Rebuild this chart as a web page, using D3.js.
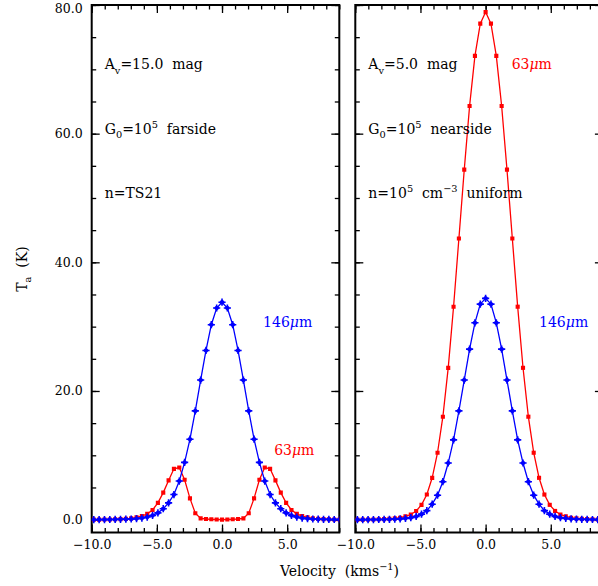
<!DOCTYPE html>
<html>
<head>
<meta charset="utf-8">
<script src="https://cdn.jsdelivr.net/npm/d3@7"></script>
<style>
  html, body { margin: 0; padding: 0; background: #fff; }
  svg { display: block; }
  text { font-family: "DejaVu Serif", serif; fill: #000; white-space: pre; }
</style>
</head>
<body>
<svg id="chart" width="598" height="586"></svg>
<script>
// Velocity channels (km/s)
const velocity = [-9.84,-9.43,-9.02,-8.61,-8.20,-7.79,-7.38,-6.97,-6.56,-6.15,-5.74,-5.33,-4.92,-4.51,-4.10,-3.69,-3.28,-2.87,-2.46,-2.05,-1.64,-1.23,-0.82,-0.41,
  0,0.41,0.82,1.23,1.64,2.05,2.46,2.87,3.28,3.69,4.10,4.51,4.92,5.33,5.74,6.15,6.56,6.97,7.38,7.79,8.20,8.61,9.02];

// Left model: Av = 15 mag, far-side illumination
const leftO146 = [0.0,0.01,0.01,0.02,0.03,0.05,0.07,0.1,0.16,0.25,0.4,0.65,1.05,1.7,2.6,3.9,6.0,8.9,12.5,16.9,21.7,26.3,30.3,32.9,
  33.8,32.9,30.3,26.3,21.7,16.9,12.5,8.9,6.0,3.9,2.6,1.7,1.05,0.65,0.4,0.25,0.16,0.1,0.07,0.05,0.03,0.02,0.01];
const leftO63 = [0.01,0.01,0.02,0.03,0.05,0.08,0.12,0.2,0.35,0.55,0.9,1.5,2.6,4.2,6.1,7.9,8.1,6.2,3.3,1.0,0.2,0.1,0.05,0.02,
  0.0,0.02,0.05,0.1,0.2,1.0,3.3,6.2,8.1,7.9,6.1,4.2,2.6,1.5,0.9,0.55,0.35,0.2,0.12,0.08,0.05,0.03,0.02];

// Right model: Av = 5 mag, near-side illumination
const rightO146 = [0.0,0.0,0.01,0.01,0.02,0.03,0.05,0.08,0.12,0.2,0.3,0.5,0.85,1.4,2.4,3.8,5.9,8.8,12.4,16.9,21.7,26.5,30.6,33.5,
  34.4,33.5,30.6,26.5,21.7,16.9,12.4,8.8,5.9,3.8,2.4,1.4,0.85,0.5,0.3,0.2,0.12,0.08,0.05,0.03,0.02,0.01,0.01];
const rightO63 = [0.01,0.01,0.02,0.03,0.05,0.08,0.12,0.2,0.3,0.5,0.8,1.35,2.3,3.9,6.5,10.4,16.0,23.6,33.1,43.7,54.4,64.3,72.1,77.1,
  78.9,77.1,72.1,64.3,54.4,43.7,33.1,23.6,16.0,10.4,6.5,3.9,2.3,1.35,0.8,0.5,0.3,0.2,0.12,0.08,0.05,0.03,0.02];

// Axis ticks
const xMajorTicks = [-10, -5, 0, 5];
const xMinorTicks = d3.range(-10, 10, 1);
const yMajorTicks = [0, 20, 40, 60, 80];
const yMinorTicks = d3.range(0, 81, 5);

// Panel annotations: [x, y, segments]
const leftNotes = [
  [-9, 70, [{t:"A"},{t:"v",sub:true},{t:"=15.0  mag"}]],
  [-9, 60, [{t:"G"},{t:"0",sub:true},{t:"=10"},{t:"5",sup:true},{t:"  farside"}]],
  [-9, 50, [{t:"n=TS21"}]]
];
const rightNotes = [
  [-9, 70, [{t:"A"},{t:"v",sub:true},{t:"=5.0  mag"}]],
  [-9, 60, [{t:"G"},{t:"0",sub:true},{t:"=10"},{t:"5",sup:true},{t:"  nearside"}]],
  [-9, 50, [{t:"n=10"},{t:"5",sup:true},{t:"  cm"},{t:"−3",sup:true},{t:"  uniform"}]]
];
const leftLineLabels = [
  [3.15, 30, "146", "#0000ff"],
  [4.0, 10, "63", "#ff0000"]
];
const rightLineLabels = [
  [2.0, 70, "63", "#ff0000"],
  [4.1, 30, "146", "#0000ff"]
];

const svg = d3.select("#chart");
const yTop = 5, yBot = 532.5;
const y = d3.scaleLinear().domain([-2, 80]).range([yBot, yTop]);

const panels = [
  {x0: 91.7, x1: 339.3, o146: leftO146, o63: leftO63, notes: leftNotes, lines: leftLineLabels, yLabels: true},
  {x0: 355.3, x1: 602.9, o146: rightO146, o63: rightO63, notes: rightNotes, lines: rightLineLabels, yLabels: false}
];

function richText(sel, segs, size) {
  const subSize = size * 0.7;
  let shift = 0;
  segs.forEach(s => {
    const ts = sel.append("tspan").text(s.t);
    let target = 0;
    if (s.sub) target = size * 0.3;
    if (s.sup) target = -size * 0.42;
    ts.attr("dy", target - shift);
    shift = target;
    if (s.sub || s.sup) ts.attr("font-size", subSize);
    if (s.it) ts.attr("font-style", "italic");
  });
}

const blueMarker = "M0,-3.1L3.1,0L0,3.1L-3.1,0Z M-0.8,-3.6h1.6v7.2h-1.6Z M-3.6,-0.8h7.2v1.6h-7.2Z";
const redMarker = d3.symbol(d3.symbolSquare, 17)();

panels.forEach((p, i) => {
  const x = d3.scaleLinear().domain([-10, 9]).range([p.x0, p.x1]);
  const g = svg.append("g");

  const clipId = "clip" + i;
  svg.append("clipPath").attr("id", clipId)
    .append("rect").attr("x", p.x0).attr("y", yTop).attr("width", p.x1 - p.x0).attr("height", yBot - yTop);

  // Ticks (inward on all four sides)
  const addAxis = (axisFn, scale, values, size, transform, fmt) => {
    const a = axisFn(scale).tickValues(values).tickSizeInner(size).tickSizeOuter(0)
      .tickFormat(fmt || "").tickPadding(7.5);
    const ag = g.append("g").attr("transform", transform).call(a);
    ag.select(".domain").remove();
    ag.selectAll("line").attr("stroke", "#000").attr("stroke-width", 1.3);
    ag.selectAll("text").attr("font-family", "DejaVu Serif").attr("font-size", 12.5).attr("fill", "#000");
    return ag;
  };
  const f1 = d3.format(".1f");
  addAxis(d3.axisBottom, x, xMinorTicks, -4.5, `translate(0,${yBot})`);
  addAxis(d3.axisBottom, x, xMajorTicks, -8, `translate(0,${yBot})`, f1);
  addAxis(d3.axisTop, x, xMinorTicks, -4.5, `translate(0,${yTop})`);
  addAxis(d3.axisTop, x, xMajorTicks, -8, `translate(0,${yTop})`);
  addAxis(d3.axisLeft, y, yMinorTicks, -4.5, `translate(${p.x0},0)`);
  const yl = addAxis(d3.axisLeft, y, yMajorTicks, -8, `translate(${p.x0},0)`, p.yLabels ? f1 : "");
  yl.selectAll("text").attr("x", -9);
  // keep the top label inside the page
  yl.selectAll(".tick").filter(d => d === 80).select("text").attr("dy", "0.6em");
  addAxis(d3.axisRight, y, yMinorTicks, -4.5, `translate(${p.x1},0)`);
  addAxis(d3.axisRight, y, yMajorTicks, -8, `translate(${p.x1},0)`);

  // Frame
  g.append("rect").attr("x", p.x0).attr("y", yTop).attr("width", p.x1 - p.x0).attr("height", yBot - yTop)
    .attr("fill", "none").attr("stroke", "#000").attr("stroke-width", 2);

  // Spectra
  const dg = g.append("g").attr("clip-path", `url(#${clipId})`);
  const line = d3.line().x(d => x(d[0])).y(d => y(d[1]));
  const series = [
    {vals: p.o63, color: "#ff0000", marker: redMarker},
    {vals: p.o146, color: "#0000ff", marker: blueMarker}
  ];
  series.forEach(s => {
    const pts = velocity.map((v, j) => [v, s.vals[j]]);
    dg.append("path").datum(pts).attr("d", line)
      .attr("fill", "none").attr("stroke", s.color).attr("stroke-width", 1.3);
    dg.selectAll(null).data(pts).enter().append("path")
      .attr("d", s.marker)
      .attr("transform", d => `translate(${x(d[0])},${y(d[1])})`)
      .attr("fill", s.color);
  });

  // Model annotations
  p.notes.forEach(n => {
    const t = g.append("text").attr("x", x(n[0])).attr("y", y(n[1])).attr("font-size", 14);
    richText(t, n[2], 14);
  });
  p.lines.forEach(l => {
    const t = g.append("text").attr("x", x(l[0])).attr("y", y(l[1])).attr("font-size", 14)
      .style("fill", l[3]);
    t.append("tspan").text(l[2]);
    t.append("tspan").attr("font-style", "italic").text("μ");
    t.append("tspan").text("m");
  });
});

// Axis titles
const xt = svg.append("text").attr("x", 339.5).attr("y", 576).attr("font-size", 14).attr("text-anchor", "middle");
richText(xt, [{t:"Velocity  (kms"},{t:"−1",sup:true},{t:")"}], 14);

const yt = svg.append("text").attr("transform", "translate(27,269) rotate(-90)")
  .attr("font-size", 14).attr("text-anchor", "middle");
richText(yt, [{t:"T"},{t:"a",sub:true},{t:"  (K)"}], 14);
</script>
</body>
</html>
